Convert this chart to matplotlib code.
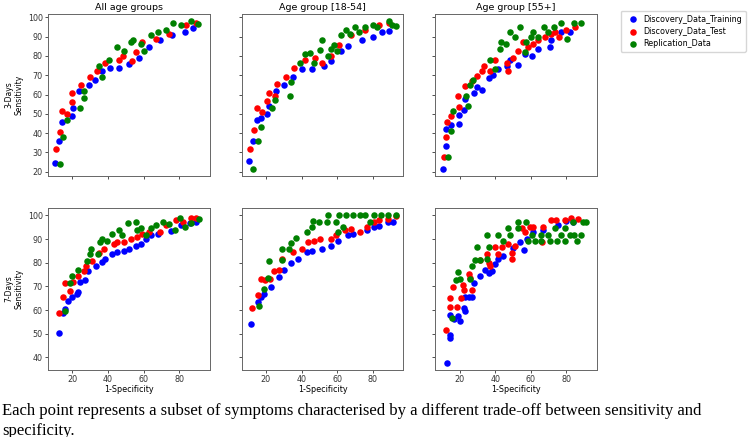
import matplotlib
matplotlib.use("Agg")
import matplotlib.pyplot as plt

# ---- data (x = 1-Specificity, y = Sensitivity) ----
# 3-days, all age groups
d3_all_train_x = [10.5, 12.6, 14, 20, 20.5, 24, 29.5, 33, 36.7, 41, 46, 52, 57.5, 63, 69, 76, 83, 88]
d3_all_train_y = [24.6, 35.7, 45.7, 49, 53, 62, 65, 67.5, 72, 73.7, 73.7, 76, 79, 84.5, 88, 90.7, 92.5, 94.3]
d3_all_test_x = [10.7, 13, 14, 16.8, 20, 20, 25, 30, 34, 38.5, 46, 48.4, 53.7, 55.6, 59.4, 67, 74.5, 84, 89.7]
d3_all_test_y = [31.6, 40.7, 51.4, 50, 60.7, 56, 65, 69, 72, 76.4, 78, 80, 77.3, 81.8, 87, 89, 91.6, 96, 97]
d3_all_rep_x = [13, 15, 16.8, 24.4, 26.3, 26.3, 34.8, 36.7, 40.5, 45, 49, 52.8, 54, 58.4, 60.3, 64, 68, 72.6, 76.4, 81, 86.8, 90.6]
d3_all_rep_y = [24, 38, 47, 53, 62, 58, 74.6, 69, 78, 84.5, 82.7, 87, 88, 86, 82.7, 90.7, 92.5, 93.4, 97, 96, 97.9, 96.4]

# 3-days, age group [18-54]
d3_young_train_x = [10.5, 12.8, 14.8, 17.3, 20.6, 21.5, 25.4, 30.3, 35, 40, 45.7, 52.5, 56.4, 62, 66, 73.8, 80, 85, 89]
d3_young_train_y = [25.5, 36, 47, 48, 50, 54, 62, 65, 69, 73, 73.4, 74.6, 77.3, 82.7, 85, 88, 90, 92.5, 93]
d3_young_test_x = [11, 13.4, 14.8, 17.7, 20.6, 21.5, 25, 26, 31, 36, 42, 47.6, 51.5, 56.4, 61.2, 68, 75.7, 83.4, 89]
d3_young_test_y = [32, 41.6, 53, 51, 56.8, 61, 59.5, 65.7, 69.3, 73.7, 78, 79, 76.4, 80, 85.4, 90.7, 93.4, 96, 97]
d3_young_rep_x = [12.8, 15.7, 17.3, 23.5, 25, 33.7, 34, 39, 42, 44.7, 46.7, 50.6, 51.5, 55, 56.4, 58.3, 60,
                  62, 65, 67, 70, 72, 75.7, 80, 82.5, 89, 91, 93]
d3_young_rep_y = [21.6, 36, 43, 53, 57, 59.5, 66.6, 76.4, 81, 81.4, 76.4, 83, 88, 80, 83.6, 85.4, 82.7,
                  90.7, 93.4, 91.6, 95, 92.5, 95, 96, 95, 97.9, 96, 95.7]

# 3-days, age group [55+]
d3_old_train_x = [10.9, 12.6, 12.6, 15, 19.6, 19.6, 22.4, 23.3, 28, 29.8, 32.6, 36.3, 39, 41.8, 46.5, 48.3,
                  53, 56.7, 60.4, 64, 70.5, 71.5, 77, 81.7]
d3_old_train_y = [21.6, 33.6, 42, 44, 49.5, 45, 52, 57.7, 60.7, 64, 62.5, 68.4, 70, 73, 74.6, 78,
                  75.5, 81, 80, 83.6, 84.5, 88, 92.5, 92.5]
d3_old_test_x = [11.3, 12.2, 13, 15, 19.3, 19.6, 23, 27, 29.8, 32.6, 33.5, 37, 40, 46.5, 47.4, 50, 53, 55.7,
                 58.5, 61.3, 64, 67.7, 71.5, 73.3, 76, 80, 84.5]
d3_old_test_y = [27.9, 38, 46, 49, 59.5, 53.6, 64.5, 66.8, 69.8, 72, 74.6, 72, 78, 76.4, 72, 79, 82.7, 87,
                 84.5, 86, 88, 89.8, 91.6, 92.5, 89.8, 93.4, 95]
d3_old_rep_x = [13.7, 15, 16.3, 23.7, 24.8, 26, 27.8, 37, 39.8, 42.6, 43.5, 46.3, 48.1, 50.9, 54, 56.5, 57.4,
                60.2, 61, 63.9, 67.6, 69.4, 73, 76.8, 80.5, 84, 88]
d3_old_rep_y = [27.5, 41, 51.4, 59.5, 54.2, 64.8, 67.5, 78, 73, 83.6, 87, 86, 92.5, 89.8, 94.8, 81.8, 87,
                89.8, 92.5, 89.8, 95, 92.5, 95, 97.3, 89, 97.3, 97.3]

# 7-days, all age groups
d7_all_train_x = [12.4, 14.9, 15.8, 17.7, 19.6, 22.5, 23.4, 24.4, 27.2, 29.1, 33.3, 36.7, 38.5, 42.3, 45, 48.9,
                  51.8, 55.5, 58.4, 61.3, 64.1, 67.9, 75.5, 81.2, 86, 89.7]
d7_all_train_y = [50.3, 58.6, 60.4, 64, 65.5, 66.7, 67.7, 72, 72.8, 76.4, 78.6, 80.3, 81.7, 83.6, 84.6, 85,
                  85.8, 87, 88, 90.1, 91.6, 92.3, 93.3, 95.9, 96.7, 97.4]
d7_all_test_x = [12.4, 14.9, 15.8, 18.7, 20.6, 23.4, 26.3, 27.6, 31, 34.8, 37.7, 43.3, 45.3, 49, 52.8, 56.6,
                 59.4, 63.3, 69, 72.6, 78.3, 82, 86.9, 89.7]
d7_all_test_y = [58.6, 65.5, 71.3, 68.1, 72, 74.2, 76.4, 78.6, 80.7, 84.3, 85.8, 88, 88.7, 88.7, 90.1, 90.9,
                 92.3, 93, 93, 95.9, 98, 97.4, 98.8, 99.1]
d7_all_rep_x = [15.8, 18.7, 20, 23.4, 28.1, 30, 30.6, 34.4, 35.8, 36.7, 39.5, 42.3, 46.5, 48, 51.4, 55.5, 56.1,
                58.4, 61.3, 64.1, 67, 70.8, 74.5, 77.4, 80.3, 83, 86.9, 91.2]
d7_all_rep_y = [59.7, 71.3, 74.2, 77.1, 80.7, 83.6, 86, 83.6, 88.7, 90.1, 89.4, 92.3, 93.8, 91.6, 96.7, 97.4, 93.8,
                94.8, 91.6, 94.5, 95.9, 97.1, 96.2, 93.8, 98.8, 95.2, 96.7, 98.6]

# 7-days, age group [18-54]
d7_young_train_x = [11.9, 15.4, 17.1, 19.2, 23.1, 27.4, 29.9, 34.2, 38, 42.9, 45.8, 51.6, 56.5, 60.3, 66.2,
                    69.1, 76.8, 80.7, 83.6, 88.4, 91.3]
d7_young_train_y = [53.9, 63.3, 65.5, 66.7, 69.6, 73.9, 77.1, 80, 81.7, 84.6, 85.1, 85.8, 87.2, 89.4, 91.6,
                    92.3, 93.8, 95.2, 95.7, 97.1, 97.4]
d7_young_test_x = [12.3, 15.7, 17.3, 19.6, 22.5, 24.4, 27.3, 29.3, 35, 40, 43.7, 46.7, 50.6, 56.4, 59.3, 64.1,
                   68, 72.8, 76.8, 80.7, 83.6, 88.4, 93]
d7_young_test_y = [60.9, 66.5, 73.2, 72.8, 73.2, 76.4, 76.8, 81.4, 84.6, 85.8, 88.7, 89.1, 90.1, 89.9, 91.6, 93.8,
                   94.2, 93, 95.2, 97.4, 98.1, 98.6, 99.6]
d7_young_rep_x = [16.1, 19.2, 21.1, 21.5, 29.3, 29.3, 33.2, 34.2, 37, 42.9, 45.8, 46.4, 49.7, 55, 54.4, 59.3,
                  60.3, 63.2, 61.2, 65, 69, 72.8, 75.7, 78.2, 80.7, 84.5, 88.4, 93]
d7_young_rep_y = [61.9, 69, 73.5, 80.7, 81.2, 85.8, 85.8, 88.3, 90.4, 93, 95.2, 97.7, 97.1, 100, 97.4, 97.4,
                  93, 95.2, 100, 100, 100, 100, 100, 97.4, 100, 100, 100, 100]

# 7-days, age group [55+]
d7_old_train_x = [12.8, 14.6, 14.6, 14.6, 16.9, 19.3, 20, 22.4, 23, 23.3, 25.2, 27, 28, 31.7, 34.4, 36.3, 38,
                  40, 41.8, 44.6, 50.2, 53.9, 56.3, 57.6, 61.3, 66.9, 75.2, 79.8, 83.5]
d7_old_train_y = [37.7, 48.1, 49.3, 58, 56.1, 57.5, 55.4, 60.9, 59.4, 65.5, 65.5, 65.5, 71.3, 74.2, 77.1, 75.7,
                  76.4, 79.3, 81.4, 82.9, 86.1, 88.7, 85.5, 90.1, 93, 93.8, 95.9, 97.7, 97.1]
d7_old_test_x = [12.6, 14.6, 14.6, 16.5, 18.7, 20.6, 22, 22.4, 25.2, 26.1, 26.7, 31.7, 35.4, 36.3, 37.2, 40,
                 41.8, 43.7, 47.4, 49.2, 49.6, 51.1, 54.8, 56.7, 59.4, 61.3, 66.9, 66.3, 71.5, 74.3, 79, 82.6, 86.3]
d7_old_test_y = [51.7, 61.2, 65.2, 69.9, 61.2, 65.2, 70.6, 68.4, 75.2, 73.5, 68.4, 81.2, 83.6, 80, 78.6, 86.8,
                 83.6, 86.5, 88, 84.3, 81.7, 87.2, 94.5, 93, 95.2, 95.2, 95.2, 88.7, 98.1, 98.1, 98.1, 99.1, 98.4]
d7_old_rep_x = [15.9, 18.1, 19.3, 20, 25.6, 27, 28.9, 29.8, 31.7, 35.4, 35.4, 36.3, 41.8, 44.6, 47.4, 48.3,
                52.9, 52.9, 57, 58.5, 60.4, 62.2, 65.9, 65.9, 69.6, 70.6, 73.3, 74.7, 77, 78.9, 78.9, 81.7,
                83.5, 84.4, 85.9, 88.1, 89, 90.9]
d7_old_rep_y = [56.8, 72.8, 75.9, 73, 73, 78.6, 81.2, 86.5, 81.2, 81.4, 91.9, 86.5, 91.9, 89.4, 94.8, 91.9,
                97.4, 94.8, 97.4, 89.4, 91.9, 89.4, 91.9, 89.4, 91.9, 89.4, 94.5, 89.4, 91.9, 89.4, 94.8, 91.9,
                97.4, 91.9, 89.4, 91.9, 97.4, 97.4]

col_titles = ["All age groups", "Age group [18-54]", "Age group [55+]"]
row_labels = ["3-Days\nSensitivity", "7-Days\nSensitivity"]
series_names = ["Discovery_Data_Training", "Discovery_Data_Test", "Replication_Data"]
series_colors = ["blue", "red", "green"]

panels = [
    [(d3_all_train_x, d3_all_train_y), (d3_all_test_x, d3_all_test_y), (d3_all_rep_x, d3_all_rep_y)],
    [(d3_young_train_x, d3_young_train_y), (d3_young_test_x, d3_young_test_y), (d3_young_rep_x, d3_young_rep_y)],
    [(d3_old_train_x, d3_old_train_y), (d3_old_test_x, d3_old_test_y), (d3_old_rep_x, d3_old_rep_y)],
    [(d7_all_train_x, d7_all_train_y), (d7_all_test_x, d7_all_test_y), (d7_all_rep_x, d7_all_rep_y)],
    [(d7_young_train_x, d7_young_train_y), (d7_young_test_x, d7_young_test_y), (d7_young_rep_x, d7_young_rep_y)],
    [(d7_old_train_x, d7_old_train_y), (d7_old_test_x, d7_old_test_y), (d7_old_rep_x, d7_old_rep_y)],
]

fig, axes = plt.subplots(2, 3, figsize=(7.5, 4.37), dpi=100, sharex=True, sharey='row')
fig.subplots_adjust(left=0.064, right=0.796, top=0.968, bottom=0.153, wspace=0.1975, hspace=0.1975)

for i, ax in enumerate(axes.flat):
    r, c = divmod(i, 3)
    for (xs, ys), name, colr in zip(panels[i], series_names, series_colors):
        ax.scatter(xs, ys, s=22, color=colr, label=name, linewidths=0)
    ax.tick_params(labelsize=5.8, length=2.2, width=0.6, pad=1.5, colors='#333333')
    for sp in ax.spines.values():
        sp.set_linewidth(0.7)
        sp.set_color('#666666')
    if r == 0:
        ax.set_title(col_titles[c], fontsize=6.8, pad=3)
    if r == 1:
        ax.set_xlabel("1-Specificity", fontsize=5.8, labelpad=0.5)
    if c == 0:
        ax.set_ylabel(row_labels[r], fontsize=5.5, labelpad=3)

axes[0, 0].set_xticks([20, 40, 60, 80])
axes[0, 0].set_yticks([20, 30, 40, 50, 60, 70, 80, 90, 100])
axes[1, 0].set_yticks([40, 50, 60, 70, 80, 90, 100])

h, l = axes[0, 0].get_legend_handles_labels()
fig.legend(h, l, loc='upper left', bbox_to_anchor=(0.822, 0.985), fontsize=5.8,
           frameon=True, markerscale=1.0, handletextpad=0.3, borderpad=0.5, labelspacing=0.4)

# caption under the figure, second line partly cut by the image edge as in the source
fig.text(0.003, 1 - 403 / 437, "Each point represents a subset of symptoms characterised by a different trade-off between sensitivity and\nspecificity.",
         fontsize=12, family='Liberation Serif', va='top', ha='left', linespacing=1.35)

fig.savefig("out.png", dpi=100)
